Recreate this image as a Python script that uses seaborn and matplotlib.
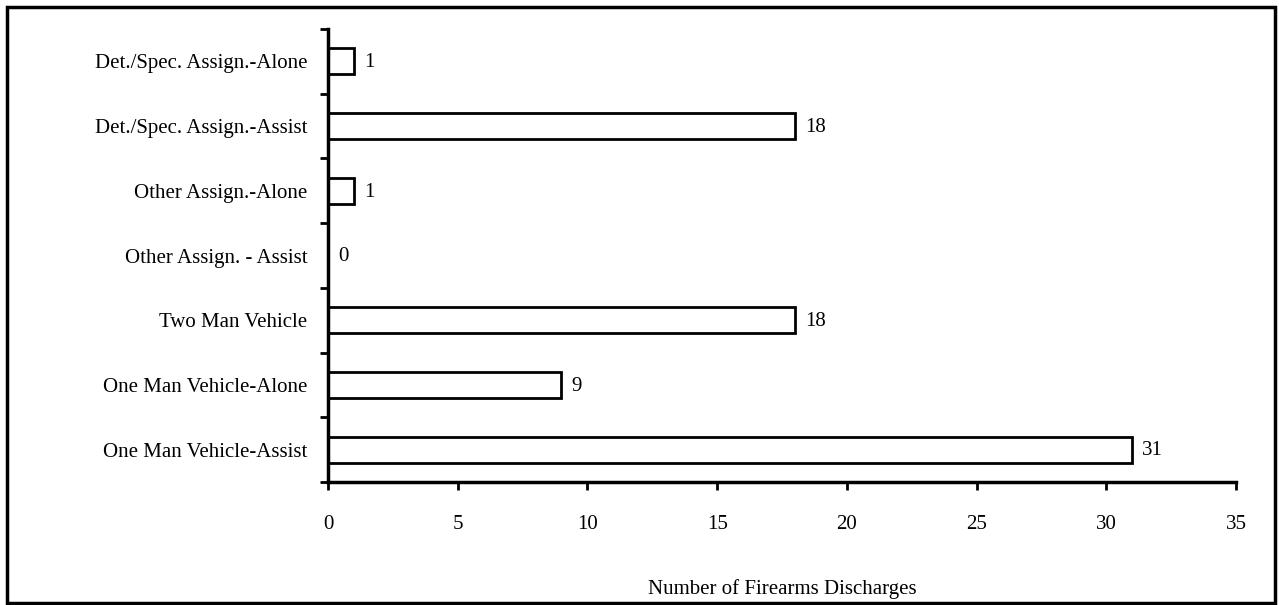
import matplotlib
matplotlib.use("Agg")
import matplotlib.pyplot as plt
import seaborn as sns
import pandas as pd
from matplotlib.patches import Rectangle
from matplotlib.ticker import FixedLocator, NullFormatter

categories = ["Det./Spec. Assign.-Alone", "Det./Spec. Assign.-Assist", "Other Assign.-Alone",
              "Other Assign. - Assist", "Two Man Vehicle", "One Man Vehicle-Alone",
              "One Man Vehicle-Assist"]
values = [1, 18, 1, 0, 18, 9, 31]
x_ticks = [0, 5, 10, 15, 20, 25, 30, 35]
x_label = "Number of Firearms Discharges"

sns.set_theme(style="white")
plt.rcParams['font.family'] = ['Liberation Serif', 'DejaVu Serif']
FS = 15

df = pd.DataFrame({"cat": categories, "val": values})

fig = plt.figure(figsize=(12.79, 6.05), dpi=100)
ax = fig.add_axes([328/1279, 1-482/605, (1236-328)/1279, (482-29)/605])

sns.barplot(data=df, x="val", y="cat", order=categories, ax=ax, width=0.4,
            color="white", edgecolor="black", linewidth=2, saturation=1)

for i, v in enumerate(values):
    ax.text(v + 0.38, i + 0.02, str(v), va="center", ha="left", fontsize=FS, color="black")

ax.set_xlim(0, 35)
ax.set_ylim(len(categories) - 0.5, -0.5)
ax.set_xticks(x_ticks)
ax.set_xticklabels([str(t) for t in x_ticks], fontsize=FS)
ax.set_xlabel(x_label, fontsize=FS, labelpad=32, color="black")
ax.set_ylabel("")
ax.tick_params(axis="y", which="major", length=0, labelsize=FS, pad=15, colors="black")
ax.yaxis.set_minor_locator(FixedLocator([i - 0.5 for i in range(len(categories) + 1)]))
ax.yaxis.set_minor_formatter(NullFormatter())
ax.tick_params(axis="y", which="minor", left=True, length=6, width=2, direction="out", color="black")
ax.tick_params(axis="x", which="major", bottom=True, length=6, width=2, direction="out",
               color="black", pad=18, labelcolor="black")

for s in ["top", "right"]:
    ax.spines[s].set_visible(False)
for s in ["left", "bottom"]:
    ax.spines[s].set_color("black")
    ax.spines[s].set_linewidth(2.5)

fig.patches.append(Rectangle((7/1279, 1-603/605), (1275-7)/1279, (603-7)/605,
                             transform=fig.transFigure, fill=False, edgecolor="black",
                             linewidth=2.5))

fig.savefig("out.png", dpi=100)
